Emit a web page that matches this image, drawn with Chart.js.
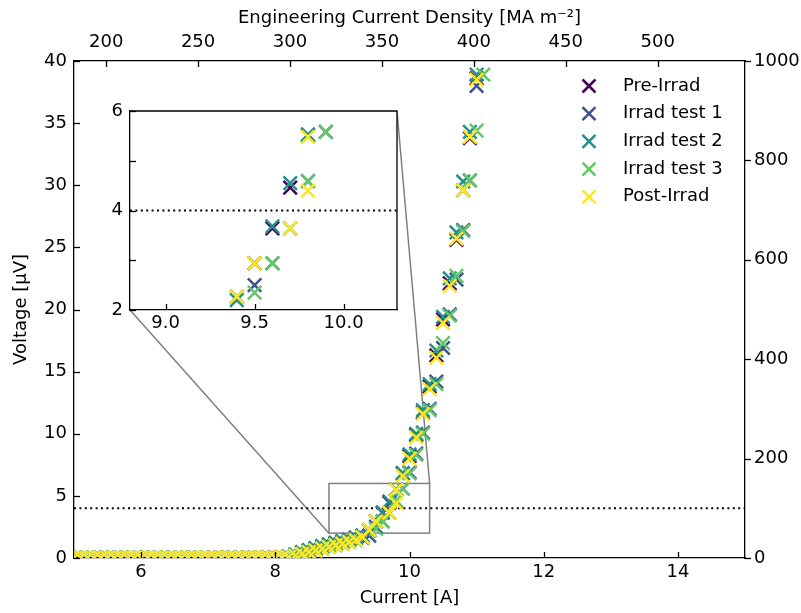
<!DOCTYPE html>
<html>
<head>
<meta charset="utf-8">
<script src="https://cdn.jsdelivr.net/npm/chart.js@4.4.0/dist/chart.umd.min.js"></script>
<style>
  body { margin: 0; background: #fff; }
  #wrap { position: relative; width: 801px; height: 613px; }
  #wrap canvas { position: absolute; left: 0; top: 0; }
</style>
</head>
<body>
<div id="wrap">
  <canvas id="main" width="801" height="613"></canvas>
  <canvas id="inset" width="801" height="613"></canvas>
</div>
<script>
// series
const seriesNames = ['Pre-Irrad', 'Irrad test 1', 'Irrad test 2', 'Irrad test 3', 'Post-Irrad'];
const seriesColors = ['#440154', '#3b528b', '#21918c', '#5ec962', '#fde725'];

// flat part, same for every run
const baselineCurrent = [5.0, 5.1, 5.2, 5.3, 5.4, 5.5, 5.6, 5.7, 5.8, 5.9, 6.0, 6.1, 6.2, 6.3, 6.4, 6.5,
  6.6, 6.7, 6.8, 6.9, 7.0, 7.1, 7.2, 7.3, 7.4, 7.5, 7.6, 7.7, 7.8, 7.9, 8.0, 8.1];
const baselineVoltage = [0.03, 0.02, 0.03, 0.02, 0.03, 0.03, 0.02, 0.03, 0.03, 0.02, 0.03, 0.03, 0.02, 0.03, 0.03, 0.02,
  0.03, 0.03, 0.03, 0.02, 0.03, 0.03, 0.03, 0.03, 0.04, 0.03, 0.04, 0.04, 0.04, 0.05, 0.05, 0.06];

// transition part of each run
const preIrradCurrent = [8.2, 8.3, 8.4, 8.5, 8.6, 8.7, 8.8, 8.9, 9.0, 9.1, 9.2, 9.3, 9.4, 9.5, 9.6, 9.7, 9.8, 9.9,
  10.0, 10.1, 10.2, 10.3, 10.4, 10.5, 10.6, 10.7, 10.8, 10.9, 11.0];
const preIrradVoltage = [0.12, 0.28, 0.45, 0.62, 0.78, 0.93, 1.07, 1.2, 1.33, 1.47, 1.62, 1.8, 2.27, 2.94, 3.64, 4.46, 5.5, 6.8,
  8.2, 9.9, 11.7, 13.8, 16.3, 19.2, 22.1, 25.6, 29.6, 33.8, 38.6];

const irrad1Current = [8.2, 8.3, 8.4, 8.5, 8.6, 8.7, 8.8, 8.9, 9.0, 9.1, 9.2, 9.3, 9.4, 9.5, 9.6, 9.7, 9.8, 9.9,
  10.0, 10.1, 10.2, 10.3, 10.4, 10.5, 10.6, 10.7, 10.8, 10.9, 11.0];
const irrad1Voltage = [0.08, 0.2, 0.35, 0.5, 0.65, 0.8, 0.95, 1.08, 1.2, 1.33, 1.47, 1.62, 1.8, 2.5, 2.94, 3.64, 4.59, 5.58,
  6.9, 8.4, 10.1, 12.0, 14.2, 16.9, 19.6, 22.4, 26.4, 30.4, 38.0];

const irrad2Current = [8.2, 8.3, 8.4, 8.5, 8.6, 8.7, 8.8, 8.9, 9.0, 9.1, 9.2, 9.3, 9.4, 9.5, 9.6, 9.7, 9.8, 9.9,
  10.0, 10.1, 10.2, 10.3, 10.4, 10.5, 10.6, 10.7, 10.8, 10.9, 11.0];
const irrad2Voltage = [0.14, 0.3, 0.47, 0.64, 0.8, 0.95, 1.1, 1.23, 1.36, 1.5, 1.65, 1.8, 2.2, 2.94, 3.68, 4.55, 5.53, 6.85,
  8.35, 10.0, 11.9, 14.0, 16.7, 19.4, 22.5, 26.2, 30.3, 34.3, 38.9];

const irrad3Current = [8.2, 8.3, 8.4, 8.5, 8.6, 8.7, 8.8, 8.9, 9.0, 9.1, 9.2, 9.3, 9.4, 9.5, 9.6, 9.7, 9.8, 9.9,
  10.0, 10.1, 10.2, 10.3, 10.4, 10.5, 10.6, 10.7, 10.8, 10.9, 11.0, 11.1];
const irrad3Voltage = [0.08, 0.18, 0.32, 0.46, 0.6, 0.74, 0.88, 1.0, 1.13, 1.27, 1.42, 1.65, 2.27, 2.35, 2.94, 3.64, 4.59, 5.58,
  6.8, 8.3, 10.0, 11.9, 14.0, 17.3, 19.5, 22.7, 26.3, 30.4, 34.4, 38.9];

const postIrradCurrent = [8.2, 8.3, 8.4, 8.5, 8.6, 8.7, 8.8, 8.9, 9.0, 9.1, 9.2, 9.3, 9.4, 9.5, 9.7, 9.8, 9.8, 9.9,
  10.0, 10.1, 10.2, 10.3, 10.4, 10.5, 10.6, 10.7, 10.8, 10.9, 11.0];
const postIrradVoltage = [0.08, 0.2, 0.34, 0.48, 0.62, 0.76, 0.9, 1.03, 1.16, 1.3, 1.45, 1.68, 2.27, 2.94, 3.64, 4.40, 5.48, 6.6,
  8.0, 9.7, 11.6, 13.6, 16.1, 18.9, 21.9, 25.7, 29.6, 33.9, 38.5];

const seriesCurrent = [preIrradCurrent, irrad1Current, irrad2Current, irrad3Current, postIrradCurrent];
const seriesVoltage = [preIrradVoltage, irrad1Voltage, irrad2Voltage, irrad3Voltage, postIrradVoltage];

// axes
const thresholdVoltage = 4;
const currentRange = [5, 15];
const voltageRange = [0, 40];
const rightRange = [0, 1000];
const densityRange = [182.5, 547.5];
const currentTicks = [6, 8, 10, 12, 14];
const voltageTicks = [0, 5, 10, 15, 20, 25, 30, 35, 40];
const rightTicks = [0, 200, 400, 600, 800, 1000];
const densityTicks = [200, 250, 300, 350, 400, 450, 500];

const insetCurrentRange = [8.8, 10.3];
const insetVoltageRange = [2, 6];
const insetCurrentTicks = [9.0, 9.5, 10.0];
const insetVoltageTicks = [2, 3, 4, 5, 6];
const insetVoltageLabels = [2, 4, 6];

Chart.defaults.font.family = "'DejaVu Sans', sans-serif";
Chart.defaults.font.size = 18;
Chart.defaults.color = '#000';

const setTicks = vals => scale => { scale.ticks = vals.map(v => ({ value: v })); };

function makeDatasets(range) {
  const sets = seriesNames.map((name, i) => {
    const xs = baselineCurrent.concat(seriesCurrent[i]);
    const ys = baselineVoltage.concat(seriesVoltage[i]);
    return {
      label: name,
      data: xs.map((x, k) => ({ x: x, y: ys[k] })),
      pointStyle: 'crossRot',
      pointRadius: 9.5,
      pointBorderWidth: 2.5,
      borderColor: seriesColors[i],
      backgroundColor: seriesColors[i],
      showLine: false,
      order: seriesNames.length - i
    };
  });
  sets.push({
    label: 'threshold',
    data: [{ x: range[0], y: thresholdVoltage }, { x: range[1], y: thresholdVoltage }],
    showLine: true,
    pointRadius: 0,
    borderColor: '#000',
    borderWidth: 2,
    borderDash: [2, 3.4],
    order: 10
  });
  return sets;
}

function drawTicks(chart, list) {
  const ctx = chart.ctx;
  const a = chart.chartArea;
  ctx.save();
  ctx.strokeStyle = '#000';
  ctx.lineWidth = 1.3;
  list.forEach(([id, side]) => {
    const s = chart.scales[id];
    s.ticks.forEach(t => {
      const p = Math.round(s.getPixelForValue(t.value)) + 0.5;
      ctx.beginPath();
      if (side === 'bottom') { ctx.moveTo(p, a.bottom); ctx.lineTo(p, a.bottom - 6); }
      if (side === 'top') { ctx.moveTo(p, a.top); ctx.lineTo(p, a.top + 6); }
      if (side === 'left') { ctx.moveTo(a.left, p); ctx.lineTo(a.left + 6, p); }
      if (side === 'right') { ctx.moveTo(a.right, p); ctx.lineTo(a.right + 6, p); }
      ctx.stroke();
    });
  });
  ctx.restore();
}

const axisBorder = { display: true, color: '#000', width: 1.3 };
const noGrid = { display: false, drawTicks: false };

// inset first, so the main chart knows where it sits
const insetChart = new Chart(document.getElementById('inset'), {
  type: 'scatter',
  data: { datasets: makeDatasets(insetCurrentRange) },
  options: {
    responsive: false,
    animation: false,
    events: [],
    layout: { padding: { top: 111, right: 404, bottom: 273, left: 0 } },
    plugins: { legend: { display: false }, tooltip: { enabled: false } },
    scales: {
      x: {
        type: 'linear', position: 'bottom',
        min: insetCurrentRange[0], max: insetCurrentRange[1],
        afterBuildTicks: setTicks(insetCurrentTicks),
        afterFit: s => { s.height = 30; },
        grid: noGrid, border: axisBorder,
        ticks: { padding: 3, maxRotation: 0, callback: v => v.toFixed(1) }
      },
      y: {
        type: 'linear', position: 'left',
        min: insetVoltageRange[0], max: insetVoltageRange[1],
        afterBuildTicks: setTicks(insetVoltageTicks),
        afterFit: s => { s.width = 130; },
        grid: noGrid, border: axisBorder,
        ticks: { padding: 7, callback: v => insetVoltageLabels.includes(v) ? String(v) : '' }
      }
    }
  },
  plugins: [{
    id: 'insetFrame',
    beforeDraw(chart) {
      const a = chart.chartArea;
      chart.ctx.save();
      chart.ctx.fillStyle = '#fff';
      chart.ctx.fillRect(a.left, a.top, a.right - a.left, a.bottom - a.top);
      chart.ctx.restore();
    },
    afterDraw(chart) {
      const a = chart.chartArea;
      const ctx = chart.ctx;
      ctx.save();
      ctx.strokeStyle = '#000';
      ctx.lineWidth = 1.3;
      ctx.beginPath();
      ctx.moveTo(a.left, a.top); ctx.lineTo(a.right, a.top); ctx.lineTo(a.right, a.bottom);
      ctx.stroke();
      ctx.restore();
      drawTicks(chart, [['x', 'bottom'], ['y', 'left']]);
    }
  }]
});

new Chart(document.getElementById('main'), {
  type: 'scatter',
  data: { datasets: makeDatasets(currentRange) },
  options: {
    responsive: false,
    animation: false,
    events: [],
    layout: { padding: 0 },
    plugins: { legend: { display: false }, tooltip: { enabled: false } },
    scales: {
      x: {
        type: 'linear', position: 'bottom',
        min: currentRange[0], max: currentRange[1],
        afterBuildTicks: setTicks(currentTicks),
        afterFit: s => { s.height = 55; },
        grid: noGrid, border: axisBorder,
        ticks: { padding: 4, maxRotation: 0 },
        title: { display: true, text: 'Current [A]', padding: { top: 0, bottom: 4 } }
      },
      x2: {
        type: 'linear', position: 'top',
        min: densityRange[0], max: densityRange[1],
        afterBuildTicks: setTicks(densityTicks),
        afterFit: s => { s.height = 61; },
        grid: noGrid, border: axisBorder,
        ticks: { padding: 8, maxRotation: 0 },
        title: { display: true, text: 'Engineering Current Density [MA m⁻²]', padding: { top: 8, bottom: 0 } }
      },
      y: {
        type: 'linear', position: 'left',
        min: voltageRange[0], max: voltageRange[1],
        afterBuildTicks: setTicks(voltageTicks),
        afterFit: s => { s.width = 74; },
        grid: noGrid, border: axisBorder,
        ticks: { padding: 7 },
        title: { display: true, text: 'Voltage [μV]', padding: { top: 11, bottom: 0 } }
      },
      y2: {
        type: 'linear', position: 'right',
        min: rightRange[0], max: rightRange[1],
        afterBuildTicks: setTicks(rightTicks),
        afterFit: s => { s.width = 56; },
        grid: noGrid, border: axisBorder,
        ticks: { padding: 9, callback: v => String(v) }
      }
    }
  },
  plugins: [{
    id: 'extras',
    beforeDraw(chart) {
      chart.ctx.save();
      chart.ctx.fillStyle = '#fff';
      chart.ctx.fillRect(0, 0, chart.width, chart.height);
      chart.ctx.restore();
    },
    beforeDatasetsDraw(chart) {
      // zoom box and connectors to the inset
      const ctx = chart.ctx;
      const xs = chart.scales.x, ys = chart.scales.y;
      const x0 = xs.getPixelForValue(insetCurrentRange[0]);
      const x1 = xs.getPixelForValue(insetCurrentRange[1]);
      const y0 = ys.getPixelForValue(insetVoltageRange[0]);
      const y1 = ys.getPixelForValue(insetVoltageRange[1]);
      const ia = insetChart.chartArea;
      ctx.save();
      ctx.strokeStyle = '#808080';
      ctx.lineWidth = 1.5;
      ctx.strokeRect(x0, y1, x1 - x0, y0 - y1);
      ctx.beginPath();
      ctx.moveTo(x0, y0); ctx.lineTo(ia.left, ia.bottom);
      ctx.moveTo(x1, y1); ctx.lineTo(ia.right, ia.top);
      ctx.stroke();
      ctx.restore();
    },
    afterDraw(chart) {
      drawTicks(chart, [['x', 'bottom'], ['x2', 'top'], ['y', 'left'], ['y2', 'right']]);
      // legend
      const ctx = chart.ctx;
      const a = chart.chartArea;
      ctx.save();
      ctx.font = "18px 'DejaVu Sans'";
      ctx.textBaseline = 'middle';
      ctx.textAlign = 'left';
      seriesNames.forEach((name, i) => {
        const y = a.top + 25 + i * 27.7;
        const x = a.right - 156;
        ctx.strokeStyle = seriesColors[i];
        ctx.lineWidth = 2.5;
        ctx.beginPath();
        ctx.moveTo(x - 6.5, y - 6.5); ctx.lineTo(x + 6.5, y + 6.5);
        ctx.moveTo(x - 6.5, y + 6.5); ctx.lineTo(x + 6.5, y - 6.5);
        ctx.stroke();
        ctx.fillStyle = '#000';
        ctx.fillText(name, a.right - 122, y);
      });
      ctx.restore();
    }
  }]
});
</script>
</body>
</html>
